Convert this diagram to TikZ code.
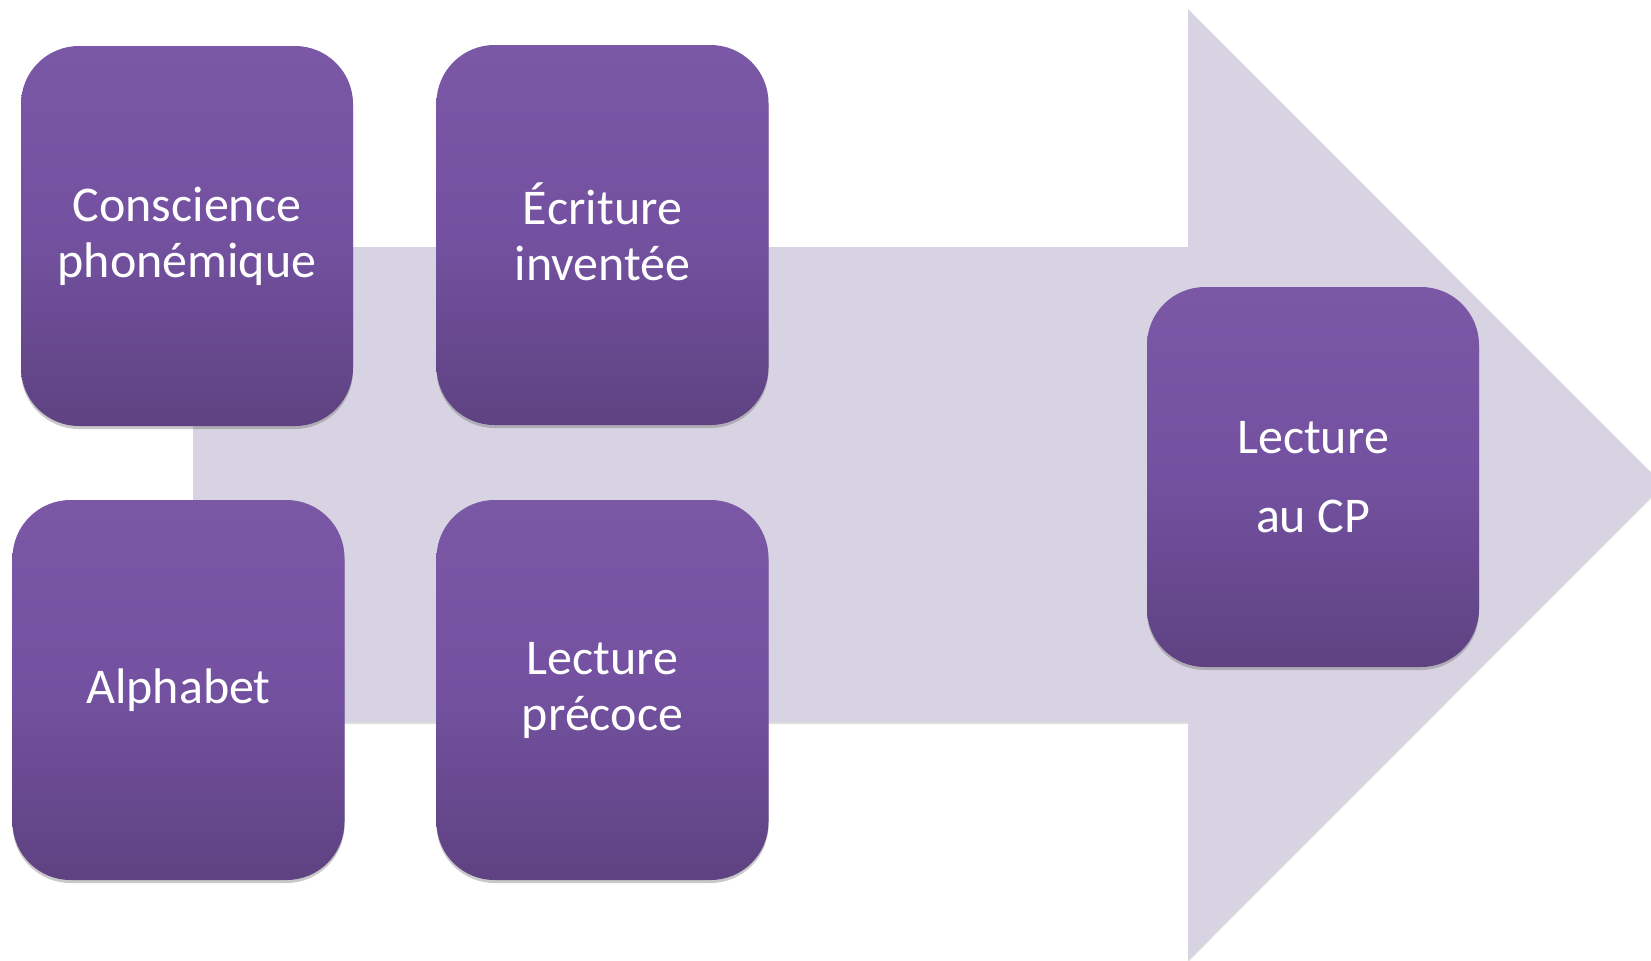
\documentclass[tikz,border=0pt]{standalone}
\usepackage{fontspec}
\setmainfont{Carlito}
\usetikzlibrary{shadows}
\definecolor{arrowfill}{HTML}{D7D3E2}
\definecolor{boxtop}{HTML}{7B58A6}
\definecolor{boxmid}{HTML}{7351A0}
\definecolor{boxbot}{HTML}{5E4281}
\tikzset{
  pbox/.style={rounded corners=29pt, minimum width=166pt, minimum height=190pt,
    inner sep=0pt, align=center, text=white,
    top color=boxtop, bottom color=boxbot, middle color=boxmid,
    drop shadow={shadow xshift=0pt, shadow yshift=-1.5pt, opacity=0.35, fill=black!60},
    font=\fontsize{25pt}{28pt}\selectfont},
  wide/.style={font=\fontsize{25pt}{39.5pt}\selectfont},
  bigarrow/.style={fill=arrowfill,
    drop shadow={shadow xshift=0pt, shadow yshift=-1pt, opacity=0.25, fill=black!50}}
}
\begin{document}
\begin{tikzpicture}[x=0.5pt,y=-0.5pt]
\useasboundingbox (0,0) rectangle (1651,960);
\fill[white] (0,0) rectangle (1651,960);
\path[bigarrow] (193,247) -- (1188,247) -- (1188,9) -- (1663,484.5) -- (1188,960) -- (1188,722) -- (193,722) -- cycle;
\node[pbox] (c1) at (187,236) {Conscience\\phonémique};
\node[pbox] (c2) at (602.5,235) {\smash{É}criture\\inventée};
\node[pbox] (c3) at (178.5,690) {Alphabet};
\node[pbox] (c4) at (602.5,690) {Lecture\\précoce};
\node[pbox,wide] (c5) at (1313,477) {Lecture\\au CP};
\end{tikzpicture}
\end{document}
